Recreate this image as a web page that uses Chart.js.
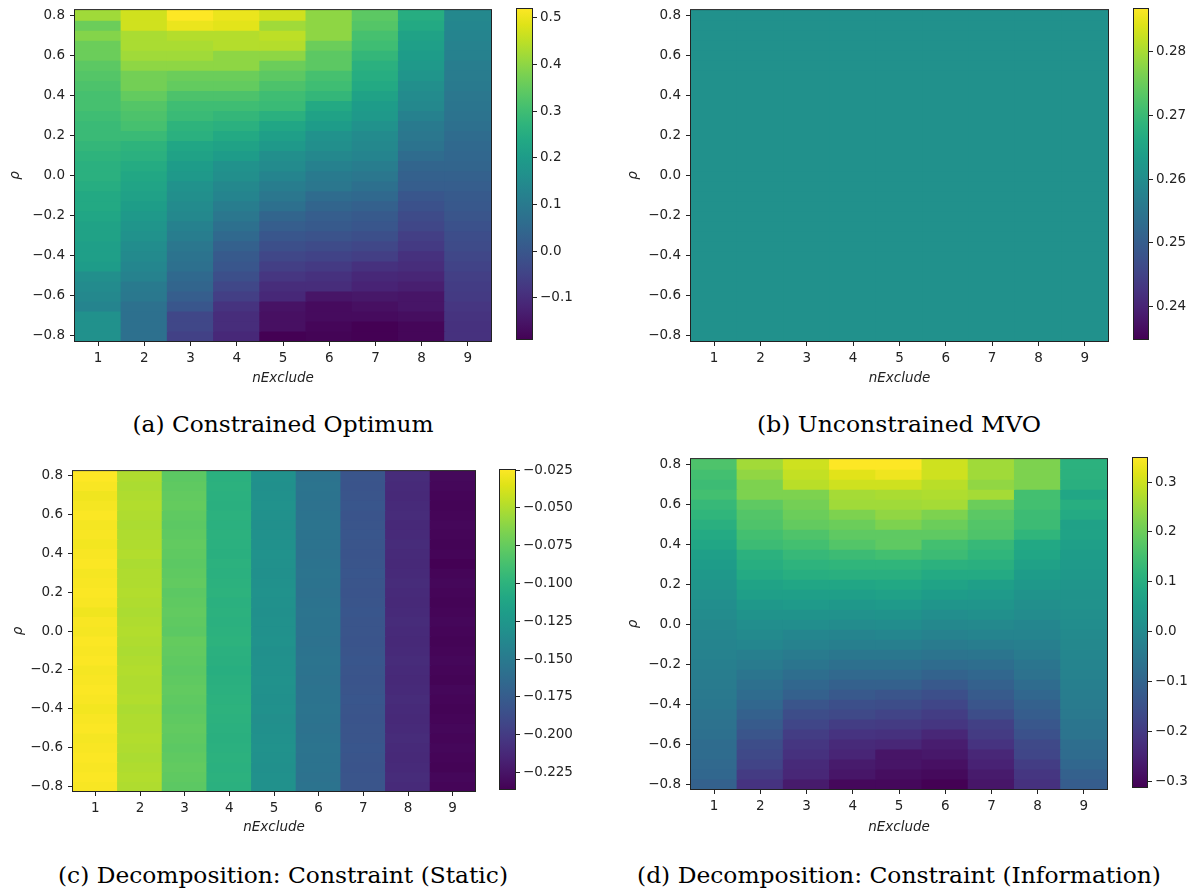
<!DOCTYPE html>
<html>
<head>
<meta charset="utf-8">
<script src="https://cdn.jsdelivr.net/npm/chart.js@4.4.1/dist/chart.umd.min.js"></script>
<style>
  html, body { margin: 0; padding: 0; background: #ffffff; }
  body { width: 1204px; height: 892px; position: relative; overflow: hidden; }
  canvas { position: absolute; }
  .cap { position: absolute; font-family: "DejaVu Serif"; font-size: 22px; line-height: 22px; color: #000; white-space: nowrap; transform-origin: 50% 50%; }
</style>
</head>
<body>
<canvas id="hmA"></canvas><canvas id="cbA"></canvas>
<canvas id="hmB"></canvas><canvas id="cbB"></canvas>
<canvas id="hmC"></canvas><canvas id="cbC"></canvas>
<canvas id="hmD"></canvas><canvas id="cbD"></canvas>
<script>
// ---------------- data ----------------
const nExclude = ['1', '2', '3', '4', '5', '6', '7', '8', '9'];
// rows from top (rho = 0.8) to bottom (rho = -0.8)
const rho = [0.8, 0.75, 0.7, 0.65, 0.6, 0.55, 0.5, 0.45, 0.4, 0.35, 0.3, 0.25, 0.2, 0.15, 0.1, 0.05, 0,
  -0.05, -0.1, -0.15, -0.2, -0.25, -0.3, -0.35, -0.4, -0.45, -0.5, -0.55, -0.6, -0.65, -0.7, -0.75, -0.8];
const rhoTicks = [-0.8, -0.6, -0.4, -0.2, 0, 0.2, 0.4, 0.6, 0.8];
const rhoTickLabels = ['−0.8', '−0.6', '−0.4', '−0.2', '0.0', '0.2', '0.4', '0.6', '0.8'];

// (a) Constrained Optimum: one array per nExclude column, rho 0.8 -> -0.8
const constrainedOptimum = [
  [0.42,0.36,0.39,0.36,0.36,0.34,0.33,0.32,0.31,0.31,0.30,0.29,0.29,0.28,0.27,0.26,0.26,0.25,0.24,0.24,0.23,0.22,0.22,0.21,0.21,0.20,0.16,0.15,0.14,0.13,0.165,0.165,0.165],
  [0.47,0.47,0.43,0.43,0.42,0.40,0.37,0.37,0.35,0.33,0.32,0.31,0.29,0.27,0.26,0.245,0.235,0.225,0.215,0.205,0.19,0.18,0.17,0.155,0.145,0.135,0.125,0.10,0.095,0.075,0.07,0.07,0.07],
  [0.521,0.50,0.44,0.43,0.42,0.40,0.36,0.35,0.32,0.30,0.29,0.27,0.26,0.23,0.22,0.20,0.19,0.17,0.16,0.15,0.14,0.12,0.11,0.09,0.08,0.07,0.05,0.04,0.02,0.0,-0.04,-0.04,-0.055],
  [0.50,0.49,0.44,0.44,0.40,0.40,0.36,0.35,0.32,0.30,0.28,0.26,0.24,0.22,0.20,0.17,0.16,0.14,0.13,0.11,0.09,0.07,0.05,0.03,0.01,0.0,-0.02,-0.04,-0.06,-0.085,-0.10,-0.10,-0.11],
  [0.47,0.42,0.45,0.44,0.40,0.36,0.34,0.32,0.30,0.29,0.26,0.23,0.21,0.19,0.16,0.15,0.13,0.11,0.09,0.07,0.04,0.02,0.0,-0.02,-0.04,-0.06,-0.08,-0.10,-0.11,-0.155,-0.16,-0.16,-0.19],
  [0.40,0.40,0.40,0.36,0.34,0.34,0.31,0.30,0.28,0.24,0.22,0.20,0.17,0.16,0.14,0.12,0.10,0.09,0.06,0.04,0.02,0.01,-0.01,-0.03,-0.05,-0.07,-0.09,-0.10,-0.15,-0.17,-0.17,-0.18,-0.185],
  [0.34,0.33,0.31,0.30,0.28,0.26,0.25,0.24,0.22,0.20,0.19,0.17,0.15,0.14,0.13,0.11,0.09,0.07,0.05,0.03,0.01,0.0,-0.02,-0.04,-0.06,-0.09,-0.11,-0.12,-0.145,-0.16,-0.17,-0.19,-0.19],
  [0.25,0.24,0.22,0.21,0.20,0.19,0.18,0.16,0.15,0.14,0.12,0.10,0.09,0.08,0.06,0.04,0.03,0.02,0.0,-0.015,-0.03,-0.04,-0.06,-0.07,-0.09,-0.10,-0.115,-0.13,-0.15,-0.15,-0.165,-0.18,-0.18],
  [0.14,0.135,0.13,0.125,0.12,0.11,0.105,0.10,0.09,0.085,0.08,0.07,0.06,0.05,0.045,0.04,0.03,0.02,0.01,0.005,-0.005,-0.015,-0.025,-0.03,-0.04,-0.05,-0.06,-0.065,-0.07,-0.08,-0.085,-0.09,-0.09]
];

// (b) Unconstrained MVO
const unconstrainedMVO = [
  [0.2608,0.2608,0.2608,0.2608,0.2608,0.2608,0.2608,0.2608,0.2608,0.2608,0.2608,0.2608,0.2608,0.2608,0.2608,0.2608,0.2608,0.2608,0.2608,0.2608,0.2608,0.2608,0.2608,0.2608,0.2608,0.2608,0.2608,0.2608,0.2608,0.2608,0.2608,0.2608,0.2608],
  [0.2608,0.2608,0.2608,0.2608,0.2608,0.2608,0.2608,0.2608,0.2608,0.2608,0.2608,0.2608,0.2608,0.2608,0.2608,0.2608,0.2608,0.2608,0.2608,0.2608,0.2608,0.2608,0.2608,0.2608,0.2608,0.2608,0.2608,0.2608,0.2608,0.2608,0.2608,0.2608,0.2608],
  [0.2608,0.2608,0.2608,0.2608,0.2608,0.2608,0.2608,0.2608,0.2608,0.2608,0.2608,0.2608,0.2608,0.2608,0.2608,0.2608,0.2608,0.2608,0.2608,0.2608,0.2608,0.2608,0.2608,0.2608,0.2608,0.2608,0.2608,0.2608,0.2608,0.2608,0.2608,0.2608,0.2608],
  [0.2608,0.2608,0.2608,0.2608,0.2608,0.2608,0.2608,0.2608,0.2608,0.2608,0.2608,0.2608,0.2608,0.2608,0.2608,0.2608,0.2608,0.2608,0.2608,0.2608,0.2608,0.2608,0.2608,0.2608,0.2608,0.2608,0.2608,0.2608,0.2608,0.2608,0.2608,0.2608,0.2608],
  [0.2608,0.2608,0.2608,0.2608,0.2608,0.2608,0.2608,0.2608,0.2608,0.2608,0.2608,0.2608,0.2608,0.2608,0.2608,0.2608,0.2608,0.2608,0.2608,0.2608,0.2608,0.2608,0.2608,0.2608,0.2608,0.2608,0.2608,0.2608,0.2608,0.2608,0.2608,0.2608,0.2608],
  [0.2608,0.2608,0.2608,0.2608,0.2608,0.2608,0.2608,0.2608,0.2608,0.2608,0.2608,0.2608,0.2608,0.2608,0.2608,0.2608,0.2608,0.2608,0.2608,0.2608,0.2608,0.2608,0.2608,0.2608,0.2608,0.2608,0.2608,0.2608,0.2608,0.2608,0.2608,0.2608,0.2608],
  [0.2608,0.2608,0.2608,0.2608,0.2608,0.2608,0.2608,0.2608,0.2608,0.2608,0.2608,0.2608,0.2608,0.2608,0.2608,0.2608,0.2608,0.2608,0.2608,0.2608,0.2608,0.2608,0.2608,0.2608,0.2608,0.2608,0.2608,0.2608,0.2608,0.2608,0.2608,0.2608,0.2608],
  [0.2608,0.2608,0.2608,0.2608,0.2608,0.2608,0.2608,0.2608,0.2608,0.2608,0.2608,0.2608,0.2608,0.2608,0.2608,0.2608,0.2608,0.2608,0.2608,0.2608,0.2608,0.2608,0.2608,0.2608,0.2608,0.2608,0.2608,0.2608,0.2608,0.2608,0.2608,0.2608,0.2608],
  [0.2608,0.2608,0.2608,0.2608,0.2608,0.2608,0.2608,0.2608,0.2608,0.2608,0.2608,0.2608,0.2608,0.2608,0.2608,0.2608,0.2608,0.2608,0.2608,0.2608,0.2608,0.2608,0.2608,0.2608,0.2608,0.2608,0.2608,0.2608,0.2608,0.2608,0.2608,0.2608,0.2608]
];

// (c) Decomposition: Constraint (Static)
const constraintStatic = [
  [-0.0243,-0.026,-0.029,-0.027,-0.025,-0.027,-0.026,-0.028,-0.026,-0.025,-0.027,-0.026,-0.025,-0.026,-0.029,-0.026,-0.027,-0.025,-0.026,-0.025,-0.027,-0.026,-0.025,-0.026,-0.028,-0.026,-0.025,-0.027,-0.026,-0.025,-0.026,-0.025,-0.026],
  [-0.050,-0.051,-0.050,-0.049,-0.050,-0.051,-0.050,-0.050,-0.049,-0.051,-0.050,-0.050,-0.049,-0.050,-0.051,-0.050,-0.049,-0.050,-0.051,-0.050,-0.049,-0.050,-0.050,-0.049,-0.051,-0.050,-0.050,-0.049,-0.050,-0.051,-0.050,-0.049,-0.050],
  [-0.078,-0.077,-0.076,-0.075,-0.077,-0.078,-0.077,-0.076,-0.077,-0.078,-0.077,-0.076,-0.078,-0.077,-0.076,-0.077,-0.078,-0.075,-0.076,-0.077,-0.078,-0.077,-0.076,-0.077,-0.078,-0.077,-0.076,-0.077,-0.078,-0.077,-0.076,-0.077,-0.078],
  [-0.102,-0.101,-0.102,-0.103,-0.101,-0.102,-0.101,-0.102,-0.103,-0.101,-0.102,-0.101,-0.100,-0.102,-0.101,-0.102,-0.101,-0.100,-0.102,-0.103,-0.104,-0.103,-0.102,-0.101,-0.100,-0.101,-0.102,-0.103,-0.102,-0.101,-0.102,-0.101,-0.102],
  [-0.130,-0.131,-0.130,-0.129,-0.130,-0.131,-0.130,-0.130,-0.129,-0.130,-0.131,-0.130,-0.129,-0.130,-0.131,-0.130,-0.130,-0.129,-0.131,-0.130,-0.130,-0.129,-0.130,-0.131,-0.130,-0.132,-0.131,-0.130,-0.129,-0.130,-0.131,-0.130,-0.130],
  [-0.156,-0.155,-0.156,-0.157,-0.156,-0.155,-0.156,-0.156,-0.157,-0.156,-0.155,-0.156,-0.157,-0.156,-0.155,-0.156,-0.156,-0.157,-0.156,-0.155,-0.156,-0.157,-0.156,-0.156,-0.155,-0.156,-0.157,-0.156,-0.155,-0.156,-0.156,-0.157,-0.156],
  [-0.181,-0.182,-0.181,-0.180,-0.182,-0.181,-0.180,-0.181,-0.182,-0.181,-0.180,-0.181,-0.182,-0.181,-0.180,-0.181,-0.181,-0.182,-0.181,-0.180,-0.181,-0.182,-0.181,-0.180,-0.181,-0.182,-0.181,-0.181,-0.180,-0.181,-0.182,-0.181,-0.181],
  [-0.210,-0.211,-0.212,-0.211,-0.210,-0.212,-0.211,-0.210,-0.211,-0.212,-0.211,-0.210,-0.211,-0.212,-0.211,-0.210,-0.211,-0.212,-0.211,-0.210,-0.211,-0.212,-0.211,-0.210,-0.211,-0.212,-0.211,-0.210,-0.211,-0.212,-0.211,-0.210,-0.211],
  [-0.232,-0.233,-0.234,-0.235,-0.234,-0.233,-0.234,-0.235,-0.234,-0.2365,-0.234,-0.233,-0.234,-0.235,-0.234,-0.233,-0.234,-0.235,-0.234,-0.233,-0.234,-0.235,-0.233,-0.234,-0.235,-0.234,-0.233,-0.234,-0.233,-0.234,-0.235,-0.233,-0.234]
];

// (d) Decomposition: Constraint (Information)
const constraintInformation = [
  [0.164,0.15,0.14,0.15,0.13,0.12,0.105,0.09,0.08,0.06,0.05,0.04,0.03,0.02,0.01,0.005,-0.005,-0.01,-0.015,-0.02,-0.03,-0.035,-0.04,-0.045,-0.05,-0.06,-0.065,-0.07,-0.08,-0.08,-0.09,-0.095,-0.11],
  [0.257,0.24,0.22,0.22,0.185,0.17,0.165,0.15,0.14,0.11,0.10,0.09,0.07,0.06,0.04,0.025,0.01,0.0,-0.01,-0.03,-0.04,-0.055,-0.07,-0.08,-0.095,-0.11,-0.125,-0.14,-0.16,-0.17,-0.18,-0.20,-0.215],
  [0.30,0.29,0.28,0.22,0.21,0.20,0.19,0.165,0.15,0.13,0.115,0.10,0.08,0.06,0.045,0.025,0.01,-0.01,-0.02,-0.04,-0.055,-0.075,-0.095,-0.11,-0.14,-0.16,-0.175,-0.195,-0.21,-0.22,-0.235,-0.24,-0.265],
  [0.35,0.32,0.30,0.26,0.255,0.22,0.20,0.185,0.17,0.14,0.12,0.105,0.08,0.06,0.04,0.02,0.005,-0.015,-0.03,-0.05,-0.07,-0.09,-0.11,-0.13,-0.155,-0.17,-0.195,-0.215,-0.235,-0.245,-0.265,-0.275,-0.30],
  [0.35,0.335,0.30,0.265,0.255,0.24,0.22,0.185,0.185,0.15,0.12,0.105,0.085,0.065,0.045,0.025,0.008,-0.01,-0.03,-0.05,-0.07,-0.09,-0.11,-0.14,-0.16,-0.18,-0.20,-0.22,-0.24,-0.277,-0.277,-0.29,-0.30],
  [0.30,0.30,0.28,0.27,0.26,0.22,0.20,0.185,0.15,0.14,0.11,0.09,0.07,0.05,0.03,0.01,-0.005,-0.02,-0.04,-0.06,-0.08,-0.105,-0.13,-0.155,-0.175,-0.195,-0.21,-0.24,-0.26,-0.27,-0.285,-0.297,-0.3134],
  [0.255,0.255,0.24,0.26,0.20,0.18,0.17,0.165,0.13,0.12,0.105,0.09,0.06,0.045,0.03,0.015,-0.003,-0.015,-0.035,-0.055,-0.075,-0.095,-0.11,-0.125,-0.14,-0.16,-0.19,-0.20,-0.215,-0.24,-0.25,-0.265,-0.275],
  [0.22,0.22,0.22,0.15,0.15,0.14,0.14,0.12,0.085,0.08,0.065,0.05,0.04,0.025,0.012,0.005,-0.01,-0.015,-0.03,-0.04,-0.055,-0.065,-0.08,-0.095,-0.11,-0.12,-0.135,-0.15,-0.17,-0.175,-0.195,-0.21,-0.22],
  [0.11,0.11,0.105,0.08,0.10,0.09,0.065,0.07,0.06,0.05,0.045,0.04,0.03,0.025,0.02,0.012,0.008,0.0,-0.005,-0.01,-0.015,-0.02,-0.03,-0.035,-0.04,-0.045,-0.055,-0.06,-0.075,-0.08,-0.095,-0.11,-0.12]
];

// colorbar ticks
const cbTicksA = [-0.1, 0, 0.1, 0.2, 0.3, 0.4, 0.5];
const cbLabelsA = ['−0.1', '0.0', '0.1', '0.2', '0.3', '0.4', '0.5'];
const cbTicksB = [0.24, 0.25, 0.26, 0.27, 0.28];
const cbLabelsB = ['0.24', '0.25', '0.26', '0.27', '0.28'];
const cbTicksC = [-0.225, -0.2, -0.175, -0.15, -0.125, -0.1, -0.075, -0.05, -0.025];
const cbLabelsC = ['−0.225', '−0.200', '−0.175', '−0.150', '−0.125', '−0.100', '−0.075', '−0.050', '−0.025'];
const cbTicksD = [-0.3, -0.2, -0.1, 0, 0.1, 0.2, 0.3];
const cbLabelsD = ['−0.3', '−0.2', '−0.1', '0.0', '0.1', '0.2', '0.3'];

const captionTexts = ['(a) Constrained Optimum', '(b) Unconstrained MVO',
  '(c) Decomposition: Constraint (Static)', '(d) Decomposition: Constraint (Information)'];

// ---------------- styling / layout ----------------
const VIRIDIS = ['#440154','#471365','#482475','#463480','#414487','#3b528b','#355f8d','#2f6c8e','#2a788e','#25848e',
  '#21918c','#1e9c89','#22a884','#2fb47c','#44bf70','#5ec962','#7ad151','#9bd93c','#bddf26','#dfe318','#fde725'];
const VIR_RGB = VIRIDIS.map(h => [parseInt(h.slice(1,3),16), parseInt(h.slice(3,5),16), parseInt(h.slice(5,7),16)]);
function viridis(t) {
  t = Math.max(0, Math.min(1, t));
  const x = t * (VIR_RGB.length - 1);
  const i = Math.min(Math.floor(x), VIR_RGB.length - 2);
  const f = x - i;
  const a = VIR_RGB[i], b = VIR_RGB[i + 1];
  const c = a.map((v, k) => Math.round(v + (b[k] - v) * f));
  return 'rgb(' + c.join(',') + ')';
}

const INK = '#222222';
const TICK_FONT = { family: 'DejaVu Sans', size: 13.5 };
const LABEL_FONT = { family: 'DejaVu Sans', size: 13.5, style: 'italic' };

const framePlugin = {
  id: 'frame',
  afterDatasetsDraw(chart) {
    const a = chart.chartArea, c = chart.ctx;
    c.save();
    c.strokeStyle = INK; c.lineWidth = 1;
    c.strokeRect(a.left - 0.5, a.top - 0.5, a.right - a.left + 1, a.bottom - a.top + 1);
    c.restore();
  }
};

function dataRange(cols) {
  let lo = Infinity, hi = -Infinity;
  cols.forEach(col => col.forEach(v => { lo = Math.min(lo, v); hi = Math.max(hi, v); }));
  if (hi - lo < 1e-12) { const d = Math.abs(lo) * 0.1; lo -= d; hi += d; } // matplotlib nonsingular
  return [lo, hi];
}

function makeHeatmap(id, cols, geo, vmin, vmax) {
  cols.forEach(c => { if (c.length !== rho.length) throw new Error(id + ' column length ' + c.length); });
  const [L, T, R, B] = geo.plot;
  const left = L - geo.yw, top = T - 10;
  const cv = document.getElementById(id);
  cv.width = R - left + 10; cv.height = B - top + geo.xh;
  cv.style.left = left + 'px'; cv.style.top = top + 'px';
  const half = Math.abs(rho[0] - rho[1]) / 2;
  const datasets = rho.map((r, i) => ({
    data: cols.map(() => [r - half, r + half]),
    backgroundColor: cols.map(col => viridis((col[i] - vmin) / (vmax - vmin))),
    borderWidth: 0, barPercentage: 1, categoryPercentage: 1, grouped: false, inflateAmount: 0.6
  }));
  return new Chart(cv, {
    type: 'bar',
    data: { labels: nExclude, datasets },
    options: {
      responsive: false, animation: false, devicePixelRatio: 1,
      layout: { padding: { top: 10, right: 10, left: 0, bottom: 0 } },
      plugins: { legend: { display: false }, tooltip: { enabled: false } },
      scales: {
        x: {
          offset: true,
          grid: { display: true, offset: false, drawOnChartArea: false, drawTicks: true, tickLength: 5, color: INK, lineWidth: 1 },
          border: { display: false },
          ticks: { font: TICK_FONT, color: INK, padding: 4, maxRotation: 0, autoSkip: false },
          title: { display: true, text: 'nExclude', font: LABEL_FONT, color: INK, padding: { top: 4, bottom: 4 } },
          afterFit: s => { s.height = geo.xh; }
        },
        y: {
          min: rho[rho.length - 1] - half, max: rho[0] + half,
          afterBuildTicks: s => { s.ticks = rhoTicks.map(v => ({ value: v })); },
          grid: { display: true, drawOnChartArea: false, drawTicks: true, tickLength: 5, color: INK, lineWidth: 1 },
          border: { display: false },
          ticks: { font: TICK_FONT, color: INK, padding: 5, callback: (v, i) => rhoTickLabels[i] },
          title: { display: true, text: 'ρ', font: LABEL_FONT, color: INK, padding: { top: 4, bottom: 4 } },
          afterFit: s => { s.width = geo.yw; }
        }
      }
    },
    plugins: [framePlugin]
  });
}

function cbGradient(context) {
  const chart = context.chart, a = chart.chartArea;
  if (!a) return VIRIDIS[10];
  const y = chart.scales.y;
  const g = chart.ctx.createLinearGradient(0, y.getPixelForValue(y.min), 0, y.getPixelForValue(y.max));
  VIRIDIS.forEach((c, i) => g.addColorStop(i / (VIRIDIS.length - 1), c));
  return g;
}

function makeColorbar(id, geo, vmin, vmax, ticks, labels) {
  const [L, T, R, B] = geo.cb;
  const cv = document.getElementById(id);
  cv.width = (R - L) + 64; cv.height = (B - T) + 20;
  cv.style.left = L + 'px'; cv.style.top = (T - 10) + 'px';
  return new Chart(cv, {
    type: 'bar',
    data: { labels: [''], datasets: [{ data: [[vmin, vmax]], backgroundColor: cbGradient, borderColor: INK,
      borderWidth: 1, borderSkipped: false, barPercentage: 1, categoryPercentage: 1, inflateAmount: 0 }] },
    options: {
      responsive: false, animation: false, devicePixelRatio: 1,
      layout: { padding: { top: 10, bottom: 10, left: 0, right: 0 } },
      plugins: { legend: { display: false }, tooltip: { enabled: false } },
      scales: {
        x: { display: false },
        y: {
          position: 'right', min: vmin, max: vmax,
          afterBuildTicks: s => { s.ticks = ticks.map(v => ({ value: v })); },
          grid: { display: true, drawOnChartArea: false, drawTicks: true, tickLength: 4, color: INK, lineWidth: 1 },
          border: { display: false },
          ticks: { font: TICK_FONT, color: INK, padding: 3, callback: (v, i) => labels[i] },
          afterFit: s => { s.width = 64; }
        }
      }
    }
  });
}

const GEO = {
  A: { plot: [75, 7, 491, 341], yw: 72, xh: 50, cb: [516, 7, 533, 341] },
  B: { plot: [691, 7, 1108, 341], yw: 70, xh: 50, cb: [1133, 7, 1149, 341] },
  C: { plot: [73, 468, 475, 791], yw: 67, xh: 49, cb: [499, 468, 516, 791] },
  D: { plot: [691, 456, 1107, 789], yw: 70, xh: 51, cb: [1132, 456, 1148, 789] }
};

const panels = [
  ['A', constrainedOptimum, cbTicksA, cbLabelsA],
  ['B', unconstrainedMVO, cbTicksB, cbLabelsB],
  ['C', constraintStatic, cbTicksC, cbLabelsC],
  ['D', constraintInformation, cbTicksD, cbLabelsD]
];
panels.forEach(([k, cols, t, l]) => {
  const [vmin, vmax] = dataRange(cols);
  makeHeatmap('hm' + k, cols, GEO[k], vmin, vmax);
  makeColorbar('cb' + k, GEO[k], vmin, vmax, t, l);
});

// captions
const CAP_POS = [
  { cx: 283, w: 301, base: 432 },
  { cx: 899, w: 284, base: 432 },
  { cx: 283, w: 450, base: 883 },
  { cx: 899, w: 524, base: 883 }
];
const meas = document.createElement('canvas').getContext('2d');
meas.font = '22px "DejaVu Serif"';
captionTexts.forEach((txt, i) => {
  const p = CAP_POS[i];
  const d = document.createElement('div');
  d.className = 'cap';
  d.textContent = txt;
  const s = p.w / meas.measureText(txt).width;
  d.style.left = p.cx + 'px';
  d.style.top = (p.base - 18) + 'px';
  d.style.transform = 'translateX(-50%) scaleX(' + s.toFixed(4) + ')';
  document.body.appendChild(d);
});
</script>
</body>
</html>
